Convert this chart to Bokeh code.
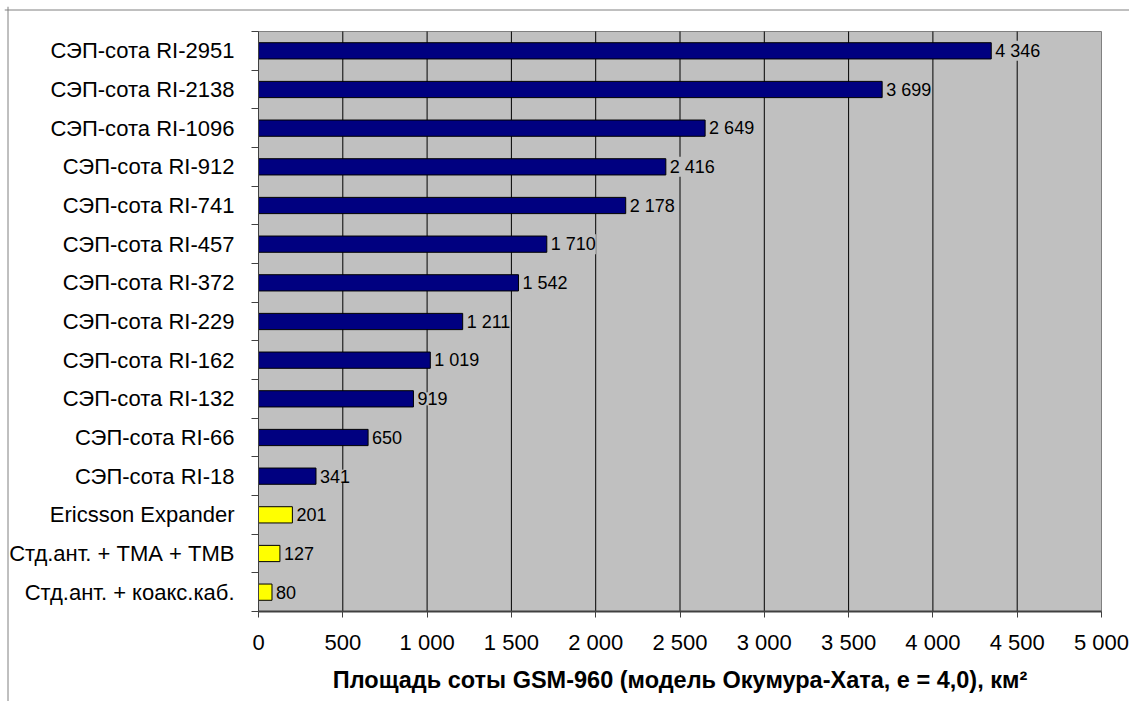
from bokeh.plotting import figure
from bokeh.models import ColumnDataSource, FixedTicker, LabelSet, Span
from bokeh.core.properties import value
from bokeh.embed import file_html
from bokeh.resources import INLINE

categories = [
    "СЭП-сота RI-2951", "СЭП-сота RI-2138", "СЭП-сота RI-1096", "СЭП-сота RI-912",
    "СЭП-сота RI-741", "СЭП-сота RI-457", "СЭП-сота RI-372", "СЭП-сота RI-229",
    "СЭП-сота RI-162", "СЭП-сота RI-132", "СЭП-сота RI-66", "СЭП-сота RI-18",
    "Ericsson Expander", "Стд.ант. + ТМА + ТМВ", "Стд.ант. + коакс.каб.",
]
values = [4346, 3699, 2649, 2416, 2178, 1710, 1542, 1211, 1019, 919, 650, 341, 201, 127, 80]
value_labels = ["4 346", "3 699", "2 649", "2 416", "2 178", "1 710", "1 542", "1 211",
                "1 019", "919", "650", "341", "201", "127", "80"]
groups = ["СЭП"] * 12 + ["std"] * 3
group_colors = {"СЭП": "#000080", "std": "#FFFF00"}
x_ticks = [0, 500, 1000, 1500, 2000, 2500, 3000, 3500, 4000, 4500, 5000]
x_title = "Площадь соты GSM-960 (модель Окумура-Хата, e = 4,0), км²"

FONT = "Liberation Sans"
n = len(categories)
x_max = x_ticks[-1]

# ---- layout geometry (pixels) ----
W, H = 1129, 701
FRAME_L, FRAME_T = 4, 6
AREA_L, AREA_R = 258, 1101          # plot area in pixels
AREA_T, AREA_B = 31, 611
BORDER_X, BORDER_Y = 7.5, 9.5       # outer chart border line positions
kx = (AREA_R - AREA_L) / x_max
ky = (AREA_B - AREA_T) / n
x_start = -(AREA_L - FRAME_L) / kx
x_end = x_max + (W - AREA_R) / kx
y_end = n + (AREA_T - FRAME_T) / ky
y_start = -(H - AREA_B) / ky

ys = [n - i - 0.5 for i in range(n)]
src = ColumnDataSource(dict(
    y=ys, v=values, lab=value_labels,
    color=[group_colors[g] for g in groups],
))

p = figure(width=W, height=H, x_range=(x_start, x_end), y_range=(y_start, y_end),
           output_backend="svg", toolbar_location=None,
           min_border_left=FRAME_L, min_border_top=FRAME_T,
           min_border_right=0, min_border_bottom=0)
p.background_fill_color = "white"
p.border_fill_color = "white"
p.outline_line_color = None

# outer chart border (left and top; right/bottom lie beyond the window)
p.add_layout(Span(location=x_start + (BORDER_X - FRAME_L) / kx, dimension="height",
                  line_color="#808080", line_width=1))
p.add_layout(Span(location=y_end - (BORDER_Y - FRAME_T) / ky, dimension="width",
                  line_color="#808080", line_width=1))

# plot area
p.quad(left=[x_ticks[0]], right=[x_max], bottom=[0], top=[n],
       fill_color="#C0C0C0", line_color="#808080", line_width=1)

# vertical grid lines
gx = x_ticks[1:-1]
p.segment(x0=gx, y0=[0] * len(gx), x1=gx, y1=[n] * len(gx),
          line_color="black", line_width=1)

p.hbar(y="y", right="v", left=0, height=0.42, source=src,
       fill_color="color", line_color="black", line_width=1)

labels = LabelSet(x="v", y="y", text="lab", source=src, x_offset=4,
                  text_baseline="middle", text_align="left",
                  text_font=value(FONT), text_font_size=value("18px"), text_color="black",
                  background_fill_color="#C0C0C0")
p.add_layout(labels)

p.xgrid.grid_line_color = None
p.ygrid.grid_line_color = None

# x axis
xa = p.xaxis[0]
xa.fixed_location = 0
xa.bounds = (0, x_max)
xa.ticker = FixedTicker(ticks=x_ticks)
xa.major_label_overrides = {t: f"{t:,}".replace(",", " ") for t in x_ticks}
xa.minor_tick_line_color = None
xa.major_tick_in = 0
xa.major_tick_out = 6
xa.axis_line_color = "#404040"
xa.axis_line_width = 2
xa.major_tick_line_color = "#404040"
xa.major_label_text_font = FONT
xa.major_label_text_font_size = "22px"
xa.major_label_text_color = "black"
xa.major_label_standoff = 12
xa.axis_label = x_title
xa.axis_label_text_font = FONT
xa.axis_label_text_font_size = "23.5px"
xa.axis_label_text_font_style = "bold"
xa.axis_label_text_color = "black"
xa.axis_label_standoff = 9

# y axis
ya = p.yaxis[0]
ya.fixed_location = 0
ya.bounds = (0, n)
ya.ticker = FixedTicker(ticks=ys, minor_ticks=list(range(n + 1)))
ya.major_label_overrides = {y: c for y, c in zip(ys, categories)}
ya.major_tick_in = 0
ya.major_tick_out = 0
ya.minor_tick_in = 0
ya.minor_tick_out = 7
ya.minor_tick_line_color = "#404040"
ya.axis_line_color = "#404040"
ya.axis_line_width = 1
ya.major_label_text_font = FONT
ya.major_label_text_font_size = "22px"
ya.major_label_text_color = "black"
ya.major_label_standoff = 17

open("out.html", "w").write(file_html(p, INLINE))
